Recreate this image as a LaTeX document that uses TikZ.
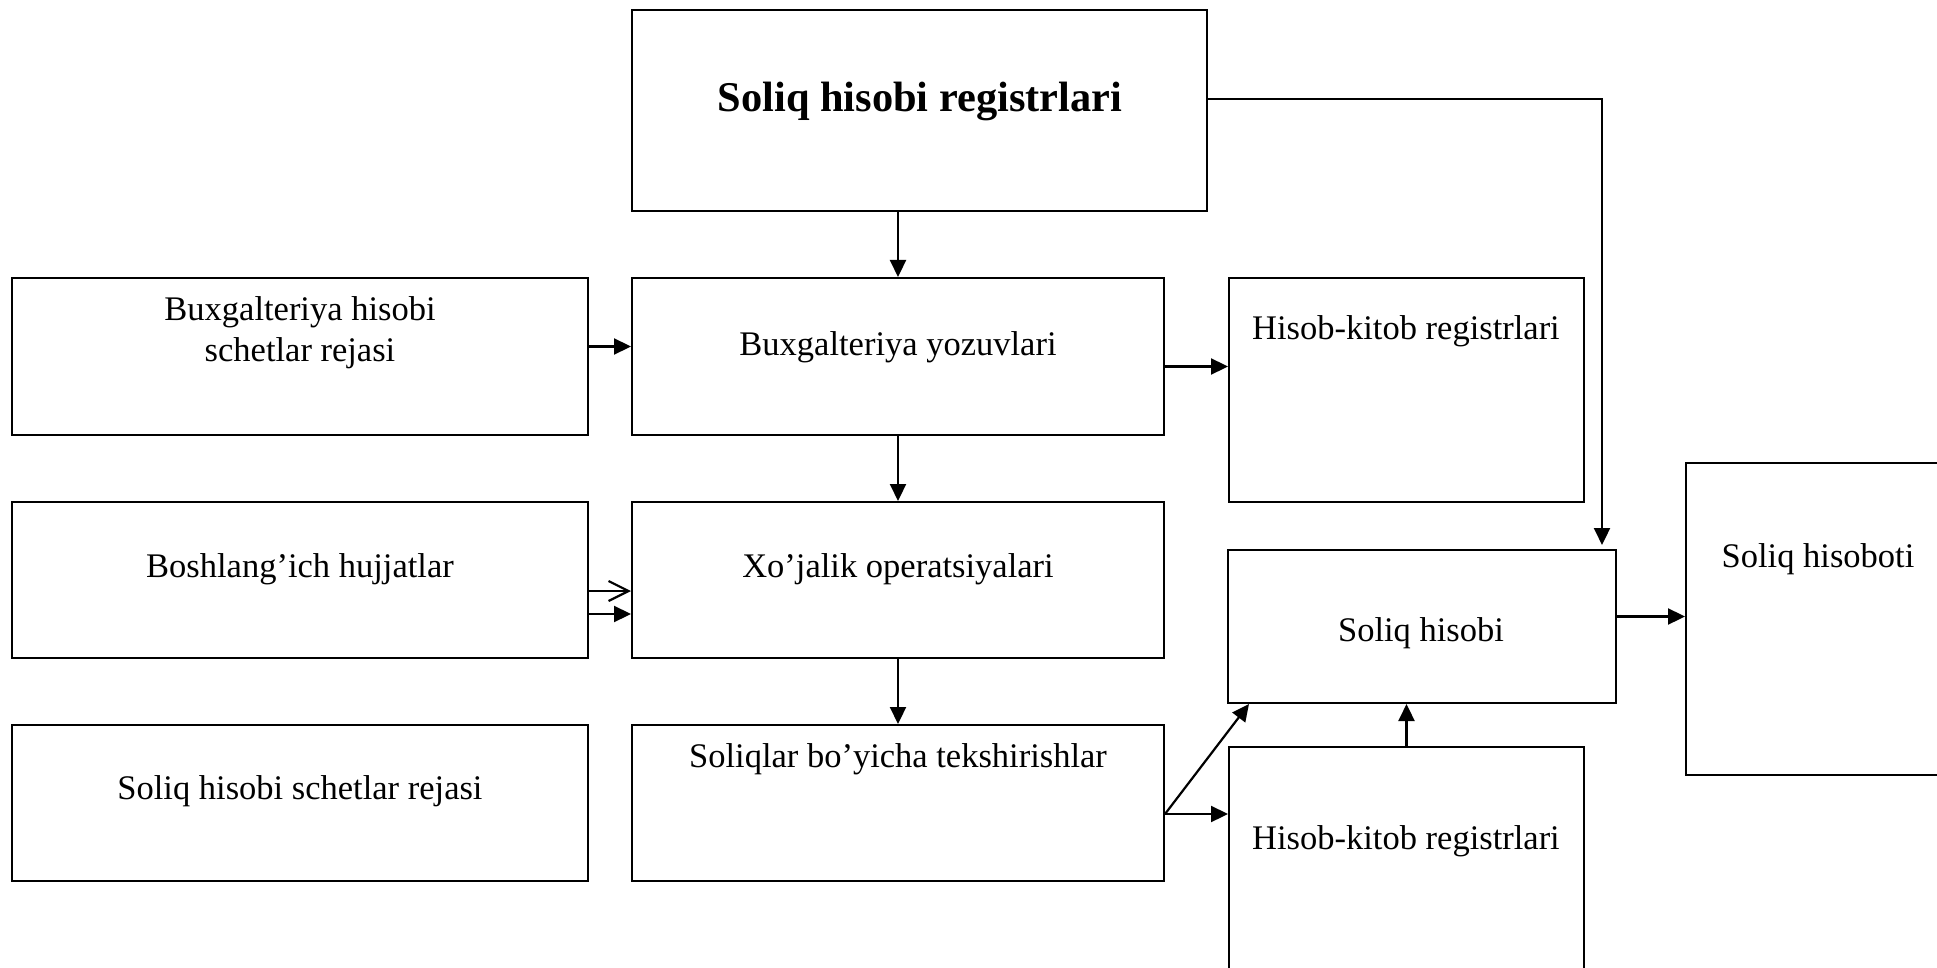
\documentclass[tikz,border=0pt]{standalone}
\usepackage{fontspec}
\setmainfont{Liberation Serif}
\usetikzlibrary{arrows.meta,fit}
\begin{document}
\begin{tikzpicture}[x=0.5pt,y=-0.5pt,
  box/.style={draw, line width=1pt, inner sep=0pt},
  txt/.style={font=\fontsize{17.25}{20.5}\selectfont, align=center, inner sep=0pt},
  arr/.style={line width=1.1pt, -{Triangle[length=8.5pt,width=8pt]}},
  openarr/.style={line width=1.1pt, -{Straight Barb[length=10pt,width=10pt]}}]
\useasboundingbox (0,0) rectangle (1937,968);
\clip (0,0) rectangle (1937,968);

% boxes
\node[box, fit={(632,10) (1207,211)}] (top) {};
\node[box, fit={(12,278) (588,435)}] (bh) {};
\node[box, fit={(632,278) (1164,435)}] (by) {};
\node[box, fit={(1229,278) (1584,502)}] (hk1) {};
\node[box, fit={(12,502) (588,658)}] (bhj) {};
\node[box, fit={(632,502) (1164,658)}] (xo) {};
\node[box, fit={(1228,550) (1616,703)}] (sh) {};
\node[box, fit={(1686,463) (1951,775)}] (sht) {};
\node[box, fit={(12,725) (588,881)}] (shsr) {};
\node[box, fit={(632,725) (1164,881)}] (st) {};
\node[box, fit={(1229,747) (1584,1010)}] (hk2) {};

% labels
\node[txt, font=\fontsize{21.2}{25}\selectfont\bfseries] (top-t) at (920,101) {Soliq hisobi registrlari};
\node[txt] (bh-t) at (300,333) {Buxgalteriya hisobi\\schetlar rejasi};
\node[txt] (by-t) at (898,347) {Buxgalteriya yozuvlari};
\node[txt] (hk1-t) at (1406,331) {Hisob-kitob registrlari};
\node[txt] (bhj-t) at (300,569) {Boshlang’ich hujjatlar};
\node[txt] (xo-t) at (898,569) {Xo’jalik operatsiyalari};
\node[txt] (sh-t) at (1421,633) {Soliq hisobi};
\node[txt] (sht-t) at (1818,559) {Soliq hisoboti};
\node[txt] (shsr-t) at (300,791) {Soliq hisobi schetlar rejasi};
\node[txt] (st-t) at (898,759) {Soliqlar bo’yicha tekshirishlar};
\node[txt] (hk2-t) at (1406,841) {Hisob-kitob registrlari};

% connectors
\coordinate (tr) at (1602,99);
\draw[arr] (by.north |- top.south) -- (by.north);
\draw[arr, shorten >=2pt] (top.east |- tr) -- (tr) -- (tr |- sh.north);
\draw[arr] ([yshift=5pt]bh.east) -- ([yshift=5pt]by.west);
\draw[arr] ([yshift=-5pt]by.east) -- ([yshift=-5pt]by.east -| hk1.west);
\draw[arr] (by.south) -- (xo.north);
\draw[openarr] ([yshift=-5.5pt]bhj.east) -- ([yshift=-5.5pt]xo.west);
\draw[arr] ([yshift=-17pt]bhj.east) -- ([yshift=-17pt]xo.west);
\draw[arr] (xo.south) -- (st.north);
\draw[arr] ([yshift=-5.5pt]st.east) -- ([xshift=11pt]sh.south west);
\draw[arr] ([yshift=-5.5pt]st.east) -- ([yshift=-5.5pt]st.east -| hk2.west);
\draw[arr] (hk2.north) -- (hk2.north |- sh.south);
\draw[arr] ([yshift=5pt]sh.east) -- ([yshift=5pt]sh.east -| sht.west);
\end{tikzpicture}
\end{document}
